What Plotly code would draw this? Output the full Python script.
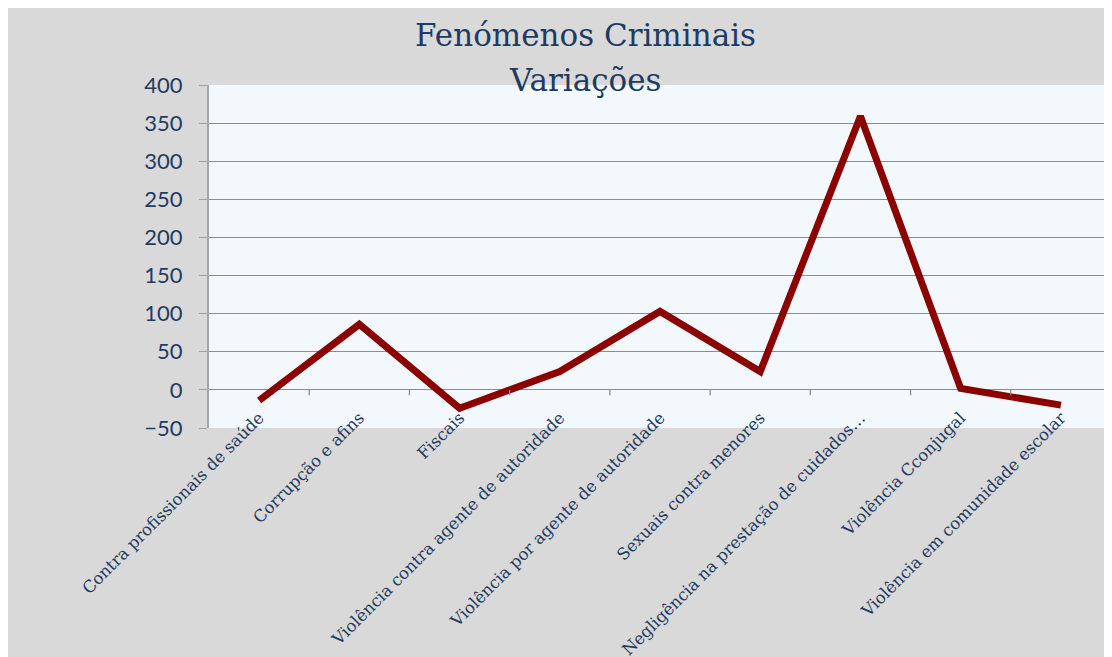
import plotly.graph_objects as go

categories = [
    "Contra profissionais de saúde",
    "Corrupção e afins",
    "Fiscais",
    "Violência contra agente de autoridade",
    "Violência por agente de autoridade",
    "Sexuais contra menores",
    "Negligência na prestação de cuidados…",
    "Violência Cconjugal",
    "Violência em comunidade escolar",
]
values = [-14, 86, -24, 24, 103, 24, 359, 2, -20]
y_ticks = [-50, 0, 50, 100, 150, 200, 250, 300, 350, 400]
title_lines = ["Fenómenos Criminais", "Variações"]

W, H = 1112, 657
L, R, T, B = 201, 9, 77, 237
PH = H - T - B

fig = go.Figure()
fig.add_trace(go.Scatter(
    x=list(range(len(categories))), y=values, mode="lines",
    line=dict(color="#8b0000", width=7),
    hoverinfo="skip", showlegend=False,
))

shapes = []
# small category boundary ticks on the zero line
for i in range(1, len(categories) + 1):
    shapes.append(dict(type="line", xref="x", yref="y",
                       x0=i - 0.5, x1=i - 0.5, y0=0, y1=-7,
                       line=dict(color="#8c8c8c", width=1.3)))

title_font = dict(family="DejaVu Serif", size=31, color="#1f3b63")
annotations = [
    dict(text=title_lines[0], xref="paper", yref="paper",
         x=(577 - L) / (W - L - R), y=1 + (T - 27) / PH,
         xanchor="center", yanchor="middle", showarrow=False, font=title_font),
    dict(text=title_lines[1], xref="paper", yref="paper",
         x=(577 - L) / (W - L - R), y=1 + (T - 72) / PH,
         xanchor="center", yanchor="middle", showarrow=False, font=title_font),
]

fig.update_layout(
    width=W, height=H,
    margin=dict(l=L, r=R, t=T, b=B, pad=0, autoexpand=False),
    paper_bgcolor="#d9d9d9",
    plot_bgcolor="#f3f8fc",
    shapes=shapes,
    annotations=annotations,
    xaxis=dict(
        range=[-0.5, len(categories) - 0.5], automargin=False,
        tickmode="array", tickvals=list(range(len(categories))), ticktext=categories,
        tickangle=-45, ticks="", showgrid=False, zeroline=False, showline=False,
        tickfont=dict(family="DejaVu Serif", size=16.5, color="#1f3b63"),
        ticklabelstandoff=-24,
    ),
    yaxis=dict(
        range=[-50, 400], tickmode="array", tickvals=y_ticks, automargin=False,
        ticks="outside", ticklen=8, tickcolor="#a0a0a0", tickwidth=1.3,
        showgrid=True, gridcolor="#8c8c8c", gridwidth=1.3,
        zeroline=False, showline=True, linecolor="#a6a6a6", linewidth=2,
        tickfont=dict(family="Lato", size=22, color="#1f3b63"),
        ticklabelstandoff=12,
    ),
)

fig.write_html("out.html")
